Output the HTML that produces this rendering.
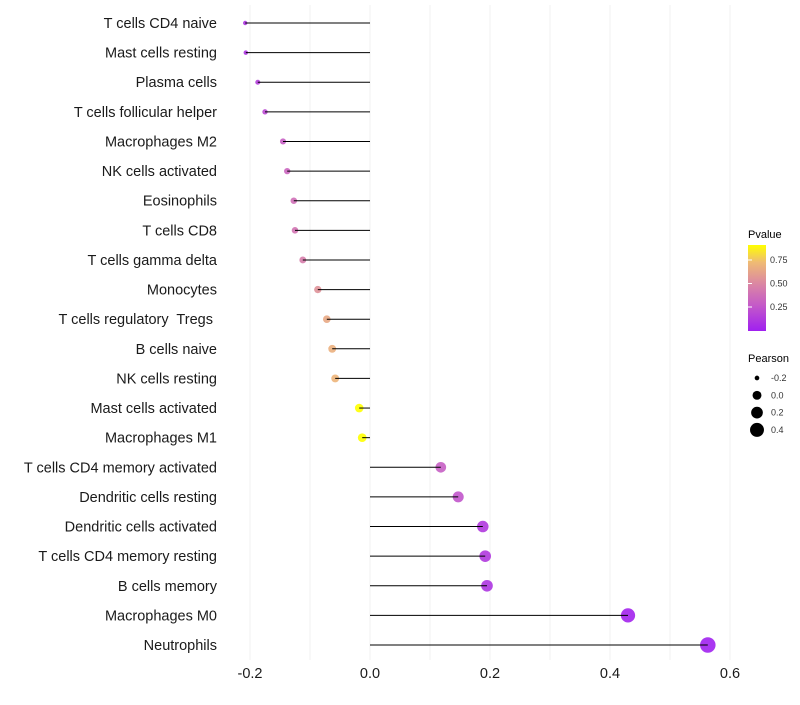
<!DOCTYPE html>
<html><head><meta charset="utf-8"><style>
body{margin:0;background:#fff;font-family:"Liberation Sans",sans-serif}
text{white-space:pre}
</style></head><body>
<svg id="chart" width="800" height="700" xmlns="http://www.w3.org/2000/svg">
<defs><linearGradient id="pg" x1="0" y1="1" x2="0" y2="0">
<stop offset="0" stop-color="#a020f0"/><stop offset="0.3" stop-color="#c45ac8"/><stop offset="0.55" stop-color="#db87a3"/><stop offset="0.8" stop-color="#efbb74"/><stop offset="1" stop-color="#ffff00"/></linearGradient></defs>
<g id="grid"></g><g id="pts"></g><g id="marks"></g><g id="ylabels"></g><g id="xticks"></g><g id="legend"></g>
</svg>
<script>
const cells=["T cells CD4 naive","Mast cells resting","Plasma cells","T cells follicular helper","Macrophages M2","NK cells activated","Eosinophils","T cells CD8","T cells gamma delta","Monocytes","T cells regulatory  Tregs ","B cells naive","NK cells resting","Mast cells activated","Macrophages M1","T cells CD4 memory activated","Dendritic cells resting","Dendritic cells activated","T cells CD4 memory resting","B cells memory","Macrophages M0","Neutrophils"];
const pearson=[-0.208,-0.207,-0.187,-0.175,-0.145,-0.138,-0.127,-0.125,-0.112,-0.087,-0.072,-0.063,-0.058,-0.018,-0.013,0.118,0.147,0.188,0.192,0.195,0.43,0.563];
const pvalue=[0.1,0.1,0.15,0.2,0.3,0.33,0.38,0.4,0.45,0.55,0.65,0.68,0.7,0.92,0.92,0.3,0.25,0.12,0.12,0.1,0.02,0.01];
const xTicks=[-0.2,0,0.2,0.4,0.6];
const xTickLabels=["-0.2","0.0","0.2","0.4","0.6"];
const NS="http://www.w3.org/2000/svg";
const x=v=>370+v*600;
const y=i=>23+i*(645-23)/(cells.length-1);
const r=v=>Math.sqrt(4+(v+0.22)*72);
function col(p){const st=[[0,[160,32,240]],[0.3,[196,90,200]],[0.55,[219,135,163]],[0.8,[239,187,116]],[1,[255,255,0]]];const t=Math.min(1,Math.max(0,p/0.91));
for(let k=1;k<st.length;k++){if(t<=st[k][0]){const a=st[k-1],b=st[k],f=(t-a[0])/(b[0]-a[0]);return `rgb(${a[1].map((c,j)=>Math.round(c+(b[1][j]-c)*f)).join(',')})`;}}return "rgb(255,255,0)";}
function mk(tag,at,parent,txt){const e=document.createElementNS(NS,tag);for(const k in at)e.setAttribute(k,at[k]);if(txt!==undefined)e.textContent=txt;parent.appendChild(e);return e;}
const grid=document.getElementById('grid');
for(let v=-0.2;v<=0.65;v+=0.1){const g=mk('line',{x1:x(v),x2:x(v),y1:5,y2:660,stroke:'#f0f0f0','stroke-width':1},grid);

}
const marks=document.getElementById('marks'),pts=document.getElementById('pts'),yl=document.getElementById('ylabels');
cells.forEach((c,i)=>{
const p=mk('circle',{cx:x(pearson[i]),cy:y(i),r:r(pearson[i]),fill:col(pvalue[i]),'fill-opacity':0.9},pts);


const l=mk('line',{x1:x(0),x2:x(pearson[i]),y1:y(i),y2:y(i),stroke:'#000','stroke-width':1},marks);


const t=mk('text',{x:217,y:y(i)+5,'text-anchor':'end','font-size':14.5,fill:'#1a1a1a'},yl,c);


});
const xt=document.getElementById('xticks');
xTicks.forEach((v,i)=>{const t=mk('text',{x:x(v),y:678,'text-anchor':'middle','font-size':14.5,fill:'#1a1a1a'},xt,xTickLabels[i]);

});
const lg=document.getElementById('legend');
const lt=mk('text',{x:748,y:238,'font-size':11,fill:'#000'},lg,'Pvalue');


const cb=mk('rect',{x:748,y:245,width:18,height:86,fill:'url(#pg)'},lg);


const pTicks=[0.25,0.5,0.75],pLabels=["0.25","0.50","0.75"];
pTicks.forEach((v,i)=>{const yy=330.5-v*94;
const tk=mk('line',{x1:748,x2:752,y1:yy,y2:yy,stroke:'#fff'},lg);


const t=mk('text',{x:770,y:yy+3,'font-size':9,fill:'#333'},lg,pLabels[i]);

});
const st=mk('text',{x:748,y:362,'font-size':11,fill:'#000'},lg,'Pearson');


const sVals=[-0.2,0,0.2,0.4],sLabels=["-0.2","0.0","0.2","0.4"];
sVals.forEach((v,i)=>{const yy=378+i*17.3;
const c=mk('circle',{cx:757,cy:yy,r:r(v),fill:'#000'},lg);


const t=mk('text',{x:771,y:yy+3,'font-size':9,fill:'#333'},lg,sLabels[i]);

});
</script>
</body></html>
